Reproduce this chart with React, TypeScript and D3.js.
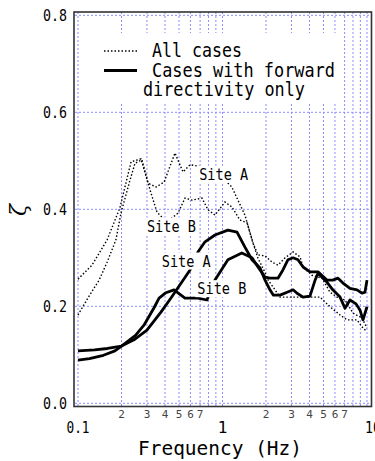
import React from "react"
import * as d3 from "d3"

// frequency (Hz) / damping ratio
const dotA_f = [0.1, 0.125, 0.159, 0.195, 0.233, 0.273, 0.305, 0.347, 0.394, 0.469, 0.533, 0.596, 0.676, 0.887, 1.16, 1.43, 1.6, 1.76, 1.91, 2.07, 2.31, 2.5, 3.08, 4.03, 4.73, 5.55, 6.51, 7.27, 8.53, 9.38, 10]
const dotA_z = [0.256, 0.285, 0.337, 0.403, 0.498, 0.504, 0.454, 0.446, 0.456, 0.516, 0.477, 0.492, 0.489, 0.481, 0.446, 0.388, 0.337, 0.299, 0.278, 0.254, 0.234, 0.219, 0.219, 0.219, 0.219, 0.199, 0.182, 0.172, 0.172, 0.155, 0.148]

const dotB_f = [0.1, 0.117, 0.14, 0.159, 0.183, 0.199, 0.229, 0.248, 0.277, 0.315, 0.352, 0.413, 0.492, 0.55, 0.615, 0.721, 0.794, 0.887, 1.04, 1.16, 1.32, 1.48, 1.63, 1.76, 1.97, 2.2, 2.42, 2.71, 3.08, 3.44, 3.61, 4.16, 4.88, 5.55, 6.2, 7.04, 8.0, 9.23, 10]
const dotB_z = [0.182, 0.217, 0.254, 0.291, 0.337, 0.394, 0.46, 0.495, 0.502, 0.44, 0.394, 0.374, 0.392, 0.423, 0.419, 0.423, 0.399, 0.388, 0.415, 0.405, 0.378, 0.372, 0.33, 0.306, 0.304, 0.291, 0.285, 0.3, 0.312, 0.302, 0.281, 0.264, 0.258, 0.229, 0.219, 0.213, 0.186, 0.176, 0.155]

const solA_f = [0.1, 0.13, 0.16, 0.2, 0.244, 0.3, 0.375, 0.44, 0.596, 0.676, 0.757, 0.887, 1.09, 1.26, 1.43, 1.6, 1.82, 1.97, 2.13, 2.25, 2.5, 2.8, 3.08, 3.28, 3.61, 4.03, 4.35, 4.58, 4.96, 5.28, 5.8, 6.51, 7.04, 7.62, 8.4, 8.95, 9.38, 10]
const solA_z = [0.108, 0.11, 0.113, 0.118, 0.131, 0.151, 0.188, 0.217, 0.275, 0.312, 0.333, 0.347, 0.357, 0.353, 0.322, 0.296, 0.279, 0.254, 0.234, 0.223, 0.223, 0.229, 0.234, 0.227, 0.219, 0.221, 0.252, 0.268, 0.258, 0.25, 0.234, 0.219, 0.196, 0.213, 0.205, 0.192, 0.172, 0.199]

const solB_f = [0.1, 0.12, 0.15, 0.18, 0.2, 0.25, 0.286, 0.336, 0.364, 0.406, 0.462, 0.55, 0.676, 0.78, 0.887, 1.09, 1.36, 1.6, 1.76, 1.97, 2.13, 2.42, 2.62, 2.84, 3.08, 3.33, 3.61, 4.03, 4.58, 5.28, 5.8, 6.3, 6.82, 7.62, 8.53, 9.23, 9.68, 10]
const solB_z = [0.089, 0.092, 0.099, 0.108, 0.118, 0.14, 0.161, 0.197, 0.217, 0.228, 0.234, 0.217, 0.217, 0.213, 0.254, 0.296, 0.31, 0.3, 0.281, 0.26, 0.258, 0.258, 0.275, 0.296, 0.3, 0.296, 0.281, 0.271, 0.271, 0.254, 0.254, 0.258, 0.248, 0.237, 0.234, 0.227, 0.229, 0.254]

const yTicks = [0, 0.2, 0.4, 0.6, 0.8]
const majorX = [0.1, 1, 10]
const minorLabels = [2, 3, 4, 5, 6, 7]

const siteLabels = [
  { text: "Site A", f: 0.69, z: 0.461 },
  { text: "Site B", f: 0.3, z: 0.354 },
  { text: "Site A", f: 0.38, z: 0.282 },
  { text: "Site B", f: 0.67, z: 0.225 },
]

const mono = "'DejaVu Sans Mono', monospace"

export default function App() {
  const x = d3.scaleLog().domain([0.1, 10]).range([78, 367])
  const y = d3.scaleLinear().domain([0, 0.8]).range([403.3, 15.3])

  const gridX: number[] = []
  for (const dec of [0.1, 1]) for (let k = 1; k <= 9; k++) gridX.push(dec * k)
  gridX.push(10)

  const line = d3
    .line<[number, number]>()
    .x(d => x(d[0]))
    .y(d => y(d[1]))

  const zip = (f: number[], z: number[]) => f.map((v, i) => [v, z[i]] as [number, number])

  return (
    <svg width={375} height={461} style={{ position: "absolute", left: 0, top: 0 }}>
      <rect width={375} height={461} fill="#fff" />
      <g stroke="#8c8cff" strokeWidth={1} strokeDasharray="2,2">
        {gridX.map((g, i) => (
          <line key={"gx" + i} x1={x(g)} x2={x(g)} y1={12} y2={406} />
        ))}
        {yTicks.map(t => (
          <line key={"gy" + t} x1={75} x2={371} y1={y(t)} y2={y(t)} />
        ))}
      </g>

      {/* legend box */}
      <rect x={96} y={33} width={243} height={70} fill="#fff" />
      <line x1={104} x2={137} y1={51} y2={51} stroke="#000" strokeWidth={1.3} strokeDasharray="1.5,2" />
      <line x1={104} x2={137} y1={70.5} y2={70.5} stroke="#000" strokeWidth={3} />
      <g fontFamily={mono} fontSize={19} fill="#000">
        <text x={152} y={57} textLength={90} lengthAdjust="spacingAndGlyphs">All cases</text>
        <text x={152} y={77} textLength={183} lengthAdjust="spacingAndGlyphs">Cases with forward</text>
        <text x={143} y={96} textLength={162} lengthAdjust="spacingAndGlyphs">directivity only</text>
      </g>

      <g fill="none" stroke="#000">
        <path d={line(zip(dotA_f, dotA_z)) || ""} strokeWidth={1.4} strokeDasharray="1.5,2" />
        <path d={line(zip(dotB_f, dotB_z)) || ""} strokeWidth={1.4} strokeDasharray="1.5,2" />
        <path d={line(zip(solA_f, solA_z)) || ""} strokeWidth={2.8} strokeLinejoin="round" />
        <path d={line(zip(solB_f, solB_z)) || ""} strokeWidth={2.8} strokeLinejoin="round" />
      </g>

      {siteLabels.map((s, i) => (
        <g key={"s" + i}>
          <rect x={x(s.f) - 2} y={y(s.z) - 14} width={53} height={17} fill="#fff" />
          <text x={x(s.f)} y={y(s.z)} fontFamily={mono} fontSize={16} textLength={49} lengthAdjust="spacingAndGlyphs">
            {s.text}
          </text>
        </g>
      ))}

      {/* frame */}
      <rect x={74} y={12} width={297.5} height={394.5} fill="none" stroke="#333" strokeWidth={1.6} />

      {/* y ticks */}
      <g fontFamily={mono} fontSize={16} fill="#000">
        {yTicks.map(t => (
          <text key={"yt" + t} x={67} y={y(t) + 6} textAnchor="end" textLength={24} lengthAdjust="spacingAndGlyphs">
            {d3.format(".1f")(t)}
          </text>
        ))}
      </g>

      {/* x ticks */}
      <g fontFamily={mono} fontSize={11} fill="#444" textAnchor="middle">
        {[0.1, 1].flatMap(dec =>
          minorLabels.map(m => (
            <text key={"mx" + dec + m} x={x(dec * m)} y={418}>
              {m}
            </text>
          ))
        )}
      </g>
      <g fontFamily={mono} fontSize={16} fill="#000">
        {majorX.map(v => (
          <text
            key={"Mx" + v}
            x={v === 10 ? 365 : x(v)}
            y={433}
            textAnchor={v === 10 ? "start" : "middle"}
            textLength={v === 0.1 ? 23 : v === 10 ? 16 : undefined}
            lengthAdjust="spacingAndGlyphs"
          >
            {String(v)}
          </text>
        ))}
      </g>

      <text x={138} y={455} fontFamily={mono} fontSize={20} textLength={164} lengthAdjust="spacingAndGlyphs">
        Frequency (Hz)
      </text>
      <text transform="translate(26,210) rotate(-90)" fontFamily="'DejaVu Serif', serif" fontSize={22} fontStyle="italic" textAnchor="middle">
        ζ
      </text>
    </svg>
  )
}
